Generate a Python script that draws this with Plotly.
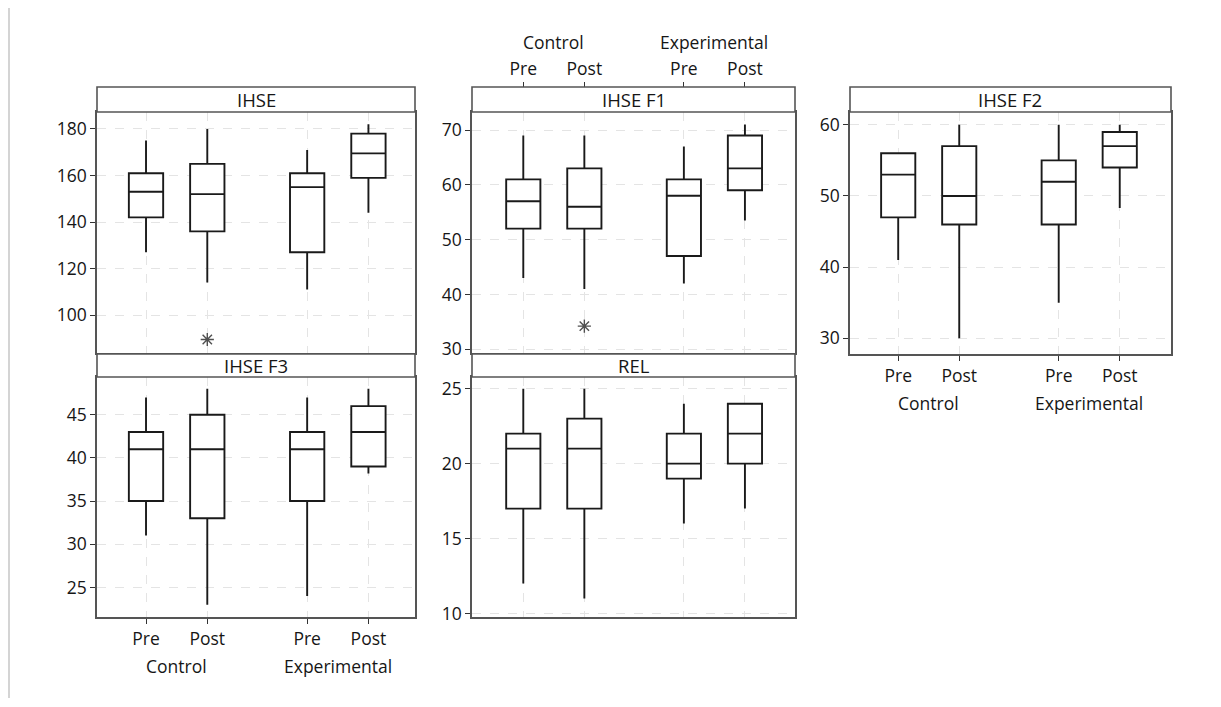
import plotly.graph_objects as go

# ---------------- data ----------------
groups = ["Control", "Experimental"]
phases = ["Pre", "Post"]
panel_titles = ["IHSE", "IHSE F1", "IHSE F2", "IHSE F3", "REL"]

# order within each list: Control Pre, Control Post, Experimental Pre, Experimental Post
ihse_low = [127, 114, 111, 144]
ihse_q1 = [142, 136, 127, 159]
ihse_med = [153, 152, 155, 169.5]
ihse_q3 = [161, 165, 161, 178]
ihse_high = [175, 180, 171, 182]
ihse_out_idx = [1]
ihse_out_val = [89.5]

f1_low = [43, 41, 42, 53.5]
f1_q1 = [52, 52, 47, 59]
f1_med = [57, 56, 58, 63]
f1_q3 = [61, 63, 61, 69]
f1_high = [69, 69, 67, 71]
f1_out_idx = [1]
f1_out_val = [34.2]

f2_low = [41, 30, 35, 48.3]
f2_q1 = [47, 46, 46, 54]
f2_med = [53, 50, 52, 57]
f2_q3 = [56, 57, 55, 59]
f2_high = [56, 60, 60, 60]

f3_low = [31, 23, 24, 38.2]
f3_q1 = [35, 33, 35, 39]
f3_med = [41, 41, 41, 43]
f3_q3 = [43, 45, 43, 46]
f3_high = [47, 48, 47, 48]

rel_low = [12, 11, 16, 17]
rel_q1 = [17, 17, 19, 20]
rel_med = [21, 21, 20, 22]
rel_q3 = [22, 23, 22, 24]
rel_high = [25, 25, 24, 24]

# ---------------- layout helpers ----------------
OFF = 8                      # browser body margin
W, H = 1221 - 2 * OFF, 707 - 2 * OFF
group_gap = 0.63


def fx(px):
    return (px - OFF) / W


def fy(py):
    return 1 - (py - OFF) / H


positions = [g * (len(phases) + group_gap) + p + 1
             for g in range(len(groups)) for p in range(len(phases))]
tick_text = [ph for _ in groups for ph in phases]
group_centers = [sum(positions[g * 2:g * 2 + 2]) / 2 for g in range(len(groups))]

FONT = "Open Sans"
TXT = "#161616"
FS = 17.5
FS_HEAD = 18.5
BORDER = "#555555"
GRID = "#e4e4e4"

# panel geometry in pixels: (left, right, header_top, plot_top, plot_bottom)
geo = {
    1: (97, 415, 87, 112, 353),
    2: (472, 795, 87, 112, 353),
    3: (850, 1171, 87, 112, 354),
    4: (97, 415, 354, 377, 617),
    5: (472, 795, 354, 377, 617),
}
xranges = {1: [0.2, 5.39], 2: [0.16, 5.45], 3: [0.21, 5.47], 4: [0.2, 5.39], 5: [0.16, 5.45]}
yranges = {1: [83.7, 187.3], 2: [29.3, 73.3], 3: [27.8, 61.8], 4: [21.57, 49.37], 5: [9.77, 25.78]}
dticks = {1: 20, 2: 10, 3: 10, 4: 5, 5: 5}
standoffs = {3: 0, 4: 0}

stats = {
    1: (ihse_low, ihse_q1, ihse_med, ihse_q3, ihse_high),
    2: (f1_low, f1_q1, f1_med, f1_q3, f1_high),
    3: (f2_low, f2_q1, f2_med, f2_q3, f2_high),
    4: (f3_low, f3_q1, f3_med, f3_q3, f3_high),
    5: (rel_low, rel_q1, rel_med, rel_q3, rel_high),
}
outliers = {1: (ihse_out_idx, ihse_out_val), 2: (f1_out_idx, f1_out_val)}

fig = go.Figure()
shapes = []
annotations = []

for k in range(1, 6):
    sx = "" if k == 1 else str(k)
    low, q1, med, q3, high = stats[k]
    fig.add_trace(go.Box(
        x=positions, lowerfence=low, q1=q1, median=med, q3=q3, upperfence=high,
        xaxis="x" + sx, yaxis="y" + sx, width=0.56, whiskerwidth=0,
        fillcolor="white", line=dict(color="#1a1a1a", width=1.9),
        showlegend=False, hoverinfo="skip",
    ))
    if k in outliers:
        idx, vals = outliers[k]
        fig.add_trace(go.Scatter(
            x=[positions[i] for i in idx], y=vals, mode="markers",
            xaxis="x" + sx, yaxis="y" + sx, showlegend=False, hoverinfo="skip",
            marker=dict(symbol="asterisk-open", size=11, color="#505050",
                        line=dict(color="#505050", width=1.4)),
        ))

    left, right, htop, ptop, pbot = geo[k]
    bottom_labels = k in (3, 4)
    fig.layout["xaxis" + sx] = dict(
        domain=[fx(left), fx(right)], range=xranges[k], anchor="y" + sx,
        tickvals=positions, ticktext=tick_text, automargin=False,
        showticklabels=bottom_labels, ticks="outside" if bottom_labels else "",
        ticklen=5, tickwidth=1.4, tickcolor="#333333",
        ticklabelstandoff=standoffs.get(k, 0),
        showgrid=True, gridcolor=GRID, griddash="dash", gridwidth=1,
        showline=True, linecolor=BORDER, linewidth=1.6, mirror=True,
        zeroline=False, tickfont=dict(family=FONT, size=FS, color=TXT),
    )
    fig.layout["yaxis" + sx] = dict(
        domain=[fy(pbot), fy(ptop)], range=yranges[k], anchor="x" + sx,
        automargin=False,
        dtick=dticks[k], ticks="outside", ticklen=5, tickwidth=1.4, tickcolor="#333333",
        showgrid=True, gridcolor=GRID, griddash="dash", gridwidth=1,
        showline=True, linecolor=BORDER, linewidth=1.6, mirror=True,
        zeroline=False, tickfont=dict(family=FONT, size=FS, color=TXT),
    )
    # header strip
    shapes.append(dict(type="rect", xref="paper", yref="paper",
                       x0=fx(left), x1=fx(right), y0=fy(ptop), y1=fy(htop),
                       fillcolor="white", line=dict(color=BORDER, width=1.6)))
    annotations.append(dict(text=panel_titles[k - 1], xref="paper", yref="paper",
                            x=(fx(left) + fx(right)) / 2, y=(fy(ptop) + fy(htop)) / 2,
                            showarrow=False, xanchor="center", yanchor="middle",
                            font=dict(family=FONT, size=FS_HEAD, color=TXT)))
    if bottom_labels:
        for g, name in enumerate(groups):
            annotations.append(dict(text=name, xref="x" + sx, yref="paper",
                                    x=group_centers[g], y=fy(pbot + 49),
                                    showarrow=False, xanchor="center", yanchor="middle",
                                    font=dict(family=FONT, size=FS, color=TXT)))

# top axis for the IHSE F1 panel (labels above its header)
left, right, htop, ptop, pbot = geo[2]
fig.add_trace(go.Scatter(x=[positions[0]], y=[None], xaxis="x6", yaxis="y2",
                         showlegend=False, hoverinfo="skip", mode="markers"))
fig.layout["xaxis6"] = dict(
    domain=[fx(left), fx(right)], range=xranges[2], anchor="free", overlaying="x2",
    position=fy(htop), side="top", tickvals=positions, ticktext=tick_text,
    automargin=False,
    ticks="outside", ticklen=5, tickwidth=1.4, tickcolor="#333333", ticklabelstandoff=0,
    showgrid=False, showline=False, zeroline=False,
    tickfont=dict(family=FONT, size=FS, color=TXT),
)
for g, name in enumerate(groups):
    annotations.append(dict(text=name, xref="x6", yref="paper",
                            x=group_centers[g], y=fy(htop - 45),
                            showarrow=False, xanchor="center", yanchor="middle",
                            font=dict(family=FONT, size=FS, color=TXT)))

# faint page rule on the far left
shapes.append(dict(type="line", xref="paper", yref="paper",
                   x0=fx(9), x1=fx(9), y0=fy(8), y1=fy(698),
                   line=dict(color="#d4d4d4", width=2)))

fig.update_layout(
    width=W, height=H, margin=dict(l=0, r=0, t=0, b=0, autoexpand=False),
    paper_bgcolor="white", plot_bgcolor="white",
    shapes=shapes, annotations=annotations, showlegend=False,
)

fig.write_html("out.html")
